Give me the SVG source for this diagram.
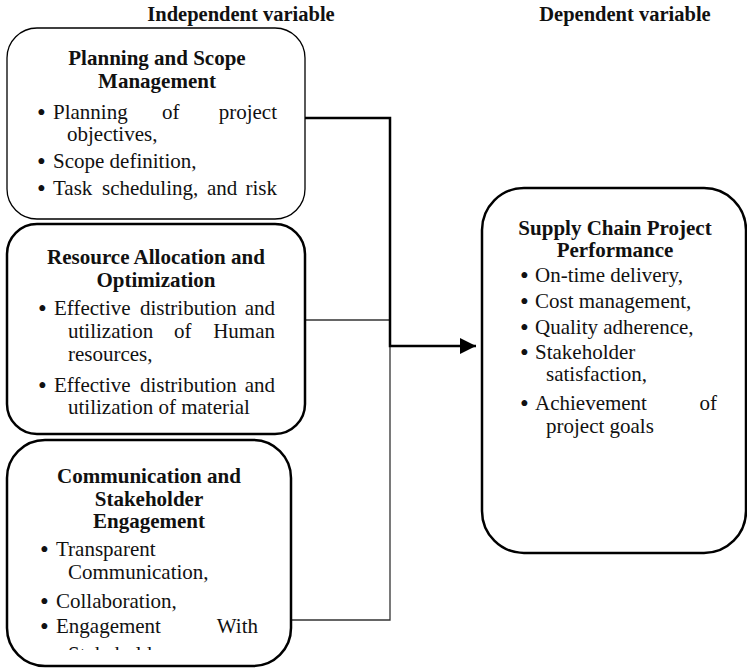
<svg xmlns="http://www.w3.org/2000/svg" width="747" height="668" viewBox="0 0 747 668">
<defs>
<style>
text{font-family:"Liberation Serif","Times New Roman",serif;fill:#111;}
.h{font-size:20.5px;font-weight:bold;text-anchor:middle;}
.t{font-size:21px;font-weight:bold;text-anchor:middle;}
.b{font-size:21px;}
.e{font-size:21px;text-anchor:end;}
.d{font-size:25px;}
.box{fill:#fff;stroke:#000;stroke-width:2.5;}
.thinbox{fill:#fff;stroke:#000;stroke-width:1.3;}
.thick{fill:none;stroke:#000;stroke-width:2.5;}
.thin{fill:none;stroke:#333;stroke-width:1.3;}
</style>
<marker id="arr" markerWidth="16" markerHeight="16" refX="16" refY="8" orient="auto" markerUnits="userSpaceOnUse"><path d="M0,0 L16,8 L0,16 z" fill="#000"/></marker>
<clipPath id="c3"><rect x="0" y="440" width="300" height="210"/></clipPath>
</defs>

<g id="headers">
<text class="h" x="241" y="21">Independent variable</text>
<text class="h" x="625" y="21">Dependent variable</text>
</g>

<g id="connectors">
<path class="thin" d="M305,320 H390"/>
<path class="thin" d="M390,346 V620 H291"/>
<path class="thick" d="M305,118 H390 V346 H476" marker-end="url(#arr)"/>
</g>

<g id="planning">
<rect class="thinbox" x="7" y="28" width="298" height="191" rx="30"/>
<text class="t" x="157" y="65">Planning and Scope</text>
<text class="t" x="157" y="88">Management</text>
<text class="d" x="37" y="121">•</text>
<text class="b" x="53" y="119">Planning</text>
<text class="b" x="162" y="119">of</text>
<text class="e" x="277" y="119">project</text>
<text class="b" x="67" y="141">objectives,</text>
<text class="d" x="37" y="170">•</text>
<text class="b" x="53" y="168">Scope definition,</text>
<text class="d" x="37" y="197">•</text>
<text class="b" x="53" y="195">Task</text>
<text class="b" x="102" y="195">scheduling,</text>
<text class="b" x="207" y="195">and</text>
<text class="e" x="277" y="195">risk</text>
</g>

<g id="resource">
<rect class="box" x="7" y="224" width="298" height="210" rx="30"/>
<text class="t" x="156" y="264">Resource Allocation and</text>
<text class="t" x="156" y="287">Optimization</text>
<text class="d" x="38" y="317">•</text>
<text class="b" x="54" y="315">Effective</text>
<text class="b" x="140" y="315">distribution</text>
<text class="e" x="275" y="315">and</text>
<text class="b" x="68" y="338">utilization</text>
<text class="b" x="174" y="338">of</text>
<text class="e" x="275" y="338">Human</text>
<text class="b" x="68" y="361">resources,</text>
<text class="d" x="38" y="394">•</text>
<text class="b" x="54" y="392">Effective</text>
<text class="b" x="140" y="392">distribution</text>
<text class="e" x="275" y="392">and</text>
<text class="b" x="68" y="414">utilization of material</text>
</g>

<g id="communication">
<rect class="box" x="7" y="440" width="284" height="226" rx="38"/>
<text class="t" x="149" y="483">Communication and</text>
<text class="t" x="149" y="506">Stakeholder</text>
<text class="t" x="149" y="528">Engagement</text>
<text class="d" x="40" y="558">•</text>
<text class="b" x="56" y="556">Transparent</text>
<text class="b" x="68" y="579">Communication,</text>
<text class="d" x="40" y="610">•</text>
<text class="b" x="56" y="608">Collaboration,</text>
<text class="d" x="40" y="635">•</text>
<text class="b" x="56" y="633">Engagement</text>
<text class="e" x="258" y="633">With</text>
<text class="b" x="68" y="661" clip-path="url(#c3)">Stakeholders</text>
</g>

<g id="performance">
<rect class="box" x="482" y="188" width="264" height="365" rx="42"/>
<text class="t" x="615" y="235">Supply Chain Project</text>
<text class="t" x="615" y="257">Performance</text>
<text class="d" x="520" y="284">•</text>
<text class="b" x="535" y="282">On-time delivery,</text>
<text class="d" x="520" y="310">•</text>
<text class="b" x="535" y="308">Cost management,</text>
<text class="d" x="520" y="336">•</text>
<text class="b" x="535" y="334">Quality adherence,</text>
<text class="d" x="520" y="361">•</text>
<text class="b" x="535" y="359">Stakeholder</text>
<text class="b" x="546" y="381">satisfaction,</text>
<text class="d" x="520" y="412">•</text>
<text class="b" x="535" y="410">Achievement</text>
<text class="e" x="717" y="410">of</text>
<text class="b" x="546" y="433">project goals</text>
</g>
</svg>
